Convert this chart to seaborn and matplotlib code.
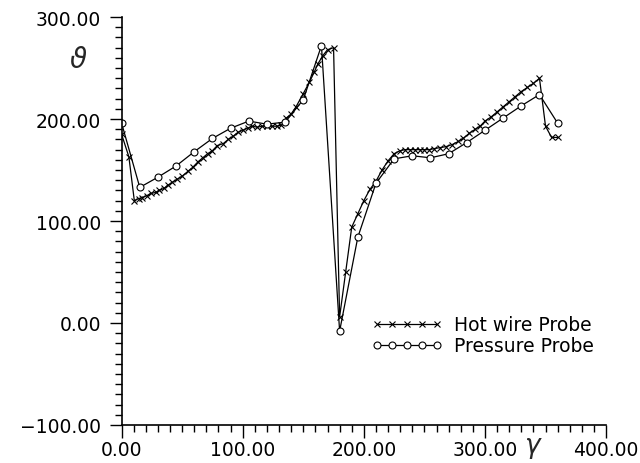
import numpy as np
import pandas as pd
import matplotlib
matplotlib.use("Agg")
import matplotlib.pyplot as plt
from matplotlib.ticker import MultipleLocator, FuncFormatter
import seaborn as sns

# Hot wire probe readings (gamma, theta)
hot_gamma = [0, 6, 10.5, 14, 17, 21, 24, 28, 31, 35, 38, 42, 46, 50, 55, 59, 63, 67,
             71, 75, 79, 84, 88, 92, 96, 100, 104, 108, 112, 116, 120, 124, 128, 132,
             136, 140, 144, 150, 155, 159, 162, 166, 170, 175, 180, 185, 190, 195, 200,
             205, 210, 215, 220, 225, 230, 234, 238, 242, 246, 250, 254, 258, 263, 268,
             273, 278, 282, 287, 292, 296, 300, 305, 310, 315, 320, 325, 330, 335, 340,
             345, 350, 355, 360]
hot_theta = [185, 163, 120, 122, 123, 125, 127, 128, 130, 132, 135, 138, 141, 144, 149,
             153, 158, 162, 166, 169, 174, 176, 180, 183, 187, 189, 191, 193, 192, 193,
             193, 193, 193, 194, 201, 205, 212, 225, 236, 246, 254, 262, 268, 270, 6,
             50, 94, 107, 120, 131, 139, 150, 159, 166, 169, 170, 170, 170, 170, 170,
             170, 171, 172, 173, 175, 178, 181, 186, 190, 193, 198, 202, 207, 212, 217,
             222, 227, 231, 235, 240, 193, 182, 182]

# Pressure probe readings
pres_gamma = [0, 15, 30, 45, 60, 75, 90, 105, 120, 135, 150, 165, 180, 195, 210, 225,
              240, 255, 270, 285, 300, 315, 330, 345, 360]
pres_theta = [196, 133, 143, 154, 168, 181, 191, 198, 195, 197, 219, 272, -8, 84, 137,
              161, 164, 162, 166, 177, 189, 201, 213, 224, 196]

hot = pd.DataFrame({"gamma": hot_gamma, "theta": hot_theta})
pres = pd.DataFrame({"gamma": pres_gamma, "theta": pres_theta})

sns.set_theme(style="ticks")
plt.rcParams["font.family"] = ["DejaVu Sans"]

fig = plt.figure(figsize=(6.4, 4.64), dpi=100)
ax = fig.add_axes([0.19, 0.082, 0.757, 0.879])

sns.lineplot(data=hot, x="gamma", y="theta", sort=False, ax=ax, color="black",
             linewidth=0.9, marker="x", markersize=4, markeredgewidth=0.8,
             markeredgecolor="black", label="Hot wire Probe")
sns.lineplot(data=pres, x="gamma", y="theta", sort=False, ax=ax, color="black",
             linewidth=0.9, marker="o", markersize=5, markerfacecolor="white",
             markeredgewidth=0.8, markeredgecolor="black", label="Pressure Probe")

ax.set_xlim(0, 400)
ax.set_ylim(-100, 300)
fmt = FuncFormatter(lambda v, p: f"{v:.2f}".replace("-", "\u2212"))
ax.xaxis.set_major_locator(MultipleLocator(100))
ax.xaxis.set_minor_locator(MultipleLocator(10))
ax.yaxis.set_major_locator(MultipleLocator(100))
ax.yaxis.set_minor_locator(MultipleLocator(10))
ax.xaxis.set_major_formatter(fmt)
ax.yaxis.set_major_formatter(fmt)
ax.tick_params(which="major", length=9, width=1, labelsize=13.5, colors="black", pad=2)
ax.tick_params(which="minor", length=5, width=1, colors="black")
ax.tick_params(axis="y", which="major", pad=6)

sns.despine(ax=ax)
for s in ("left", "bottom"):
    ax.spines[s].set_linewidth(1.2)
    ax.spines[s].set_color("black")

ax.set_xlabel("")
ax.set_ylabel("")
fig.text(0.122, 0.87, r"$\vartheta$", fontsize=20, ha="center", va="center")
fig.text(0.833, 0.035, r"$\gamma$", fontsize=19, ha="center", va="center")

leg = ax.legend(loc="upper left", bbox_to_anchor=(0.48, 0.31), frameon=False,
                numpoints=5, handlelength=3.8, handletextpad=0.6, labelspacing=0.1,
                fontsize=13.5)
for t in leg.get_texts():
    t.set_color("black")

fig.savefig("out.png", dpi=100)
